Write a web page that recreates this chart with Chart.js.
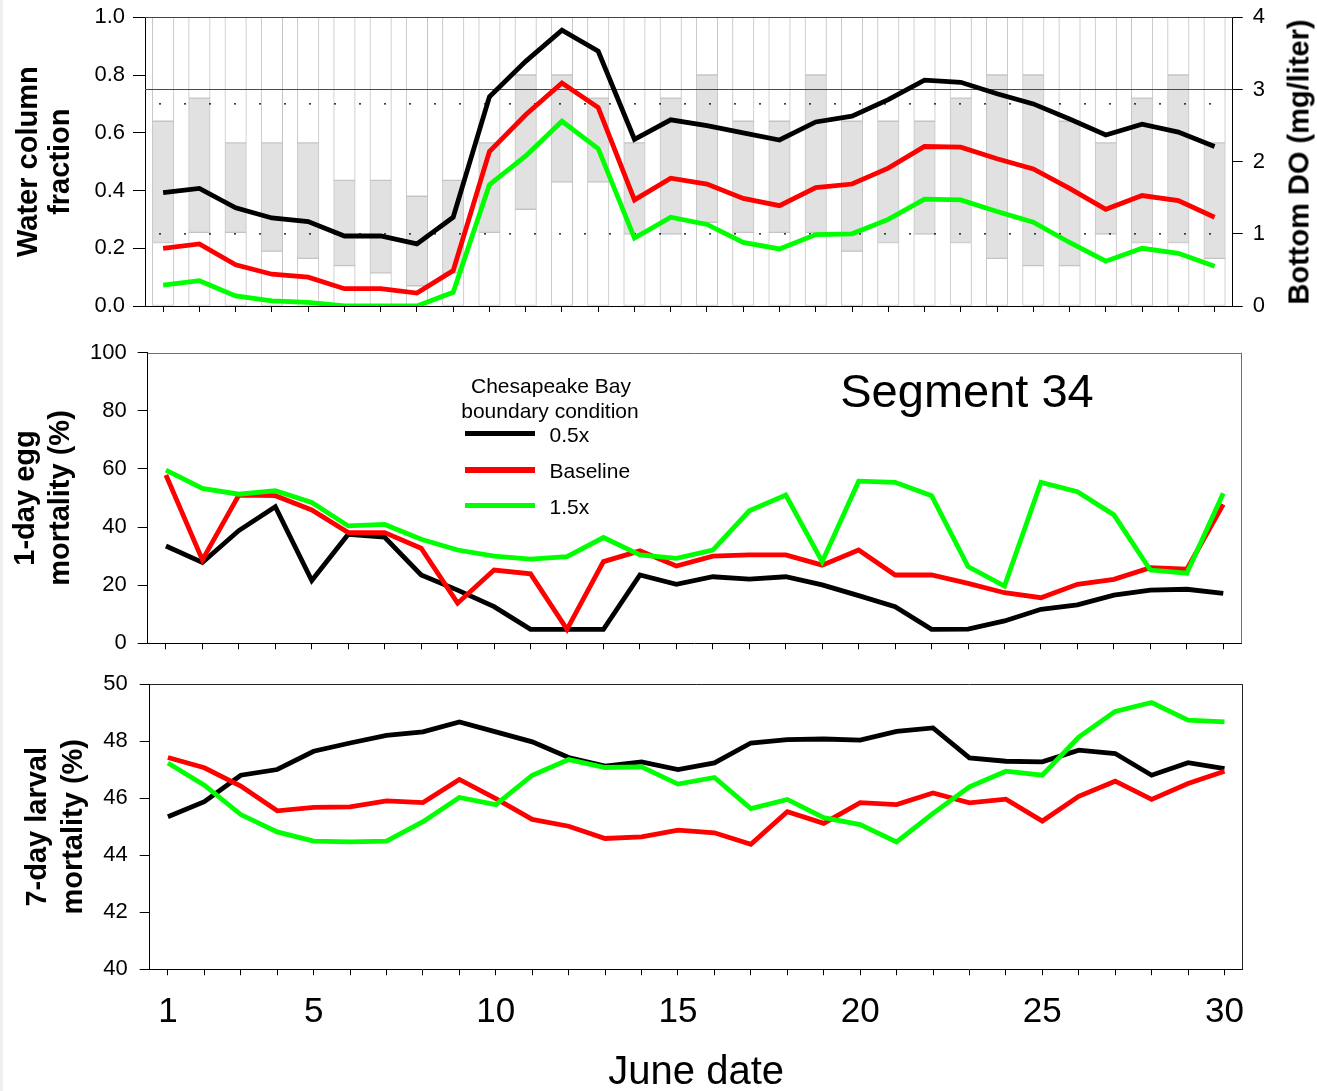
<!DOCTYPE html>
<html>
<head>
<meta charset="utf-8">
<title>Segment 34 - June dissolved oxygen and mortality</title>
<script src="https://cdn.jsdelivr.net/npm/chart.js@4.4.1/dist/chart.umd.min.js"></script>
<style>
  html, body { margin: 0; padding: 0; background: #ffffff; }
  body { width: 1317px; height: 1091px; position: relative; overflow: hidden;
         font-family: "Liberation Sans", Arial, Helvetica, sans-serif; color: #000; }
  .edge { position: absolute; left: 0; top: 0; width: 3px; height: 1091px; background: #efefef; }
  canvas { position: absolute; left: 0; }
  #c1 { top: 0; }
  #c2 { top: 330px; }
  #c3 { top: 670px; }
  .txt { position: absolute; white-space: nowrap; line-height: 1; }
  .swatch { position: absolute; }
</style>
</head>
<body>
<div class="edge"></div>
<canvas id="c1" width="1317" height="330" style="width:1317px;height:330px"></canvas>
<canvas id="c2" width="1317" height="340" style="width:1317px;height:340px"></canvas>
<canvas id="c3" width="1317" height="421" style="width:1317px;height:421px"></canvas>
<div id="notes"></div>
<script>
// ---- June dates ----
const days = [1, 2, 3, 4, 5, 6, 7, 8, 9, 10, 11, 12, 13, 14, 15, 16, 17, 18, 19, 20,
              21, 22, 23, 24, 25, 26, 27, 28, 29, 30];
const dateTickLabels = [1, 5, 10, 15, 20, 25, 30];

// ---- Water column fraction: lower and upper edge of the shaded layer ----
const layerBottom = [0.22, 0.255, 0.255, 0.19, 0.165, 0.14, 0.115, 0.07, 0.115, 0.255,
                     0.335, 0.43, 0.43, 0.25, 0.25, 0.29, 0.255, 0.255, 0.255, 0.19,
                     0.22, 0.25, 0.22, 0.165, 0.14, 0.14, 0.25, 0.22, 0.22, 0.165];
const layerTop    = [0.64, 0.72, 0.565, 0.565, 0.565, 0.435, 0.435, 0.38, 0.435, 0.565,
                     0.80, 0.80, 0.72, 0.565, 0.72, 0.80, 0.64, 0.64, 0.80, 0.64,
                     0.64, 0.64, 0.72, 0.80, 0.80, 0.64, 0.565, 0.72, 0.80, 0.565];

// ---- Bottom dissolved oxygen (mg/liter) ----
const bottomDO_half = [1.57, 1.63, 1.36, 1.22, 1.17, 0.97, 0.97, 0.86, 1.23, 2.90,
                       3.39, 3.82, 3.53, 2.31, 2.58, 2.50, 2.40, 2.30, 2.55, 2.63,
                       2.86, 3.13, 3.10, 2.94, 2.80, 2.59, 2.37, 2.52, 2.41, 2.21];
const bottomDO_base = [0.80, 0.86, 0.57, 0.44, 0.40, 0.24, 0.24, 0.18, 0.49, 2.14,
                       2.65, 3.09, 2.75, 1.47, 1.77, 1.69, 1.49, 1.39, 1.64, 1.69,
                       1.91, 2.21, 2.20, 2.04, 1.90, 1.63, 1.34, 1.53, 1.46, 1.23];
const bottomDO_x15  = [0.29, 0.35, 0.14, 0.07, 0.05, 0.00, 0.00, 0.00, 0.19, 1.68,
                       2.08, 2.56, 2.18, 0.94, 1.23, 1.13, 0.88, 0.79, 0.99, 1.00,
                       1.20, 1.48, 1.47, 1.31, 1.16, 0.88, 0.62, 0.80, 0.73, 0.55];

// ---- 1-day egg mortality (%) ----
const eggMort_half = [33.5, 27.8, 38.8, 47.0, 21.6, 37.5, 36.5, 23.5, 18.3, 12.6,
                      4.8, 4.8, 4.8, 23.5, 20.3, 22.9, 22.1, 22.9, 20.1, 16.4,
                      12.6, 4.8, 4.9, 7.7, 11.7, 13.2, 16.6, 18.3, 18.6, 17.2];
const eggMort_base = [57.9, 28.7, 51.0, 50.8, 45.9, 38.1, 38.1, 32.7, 13.8, 25.2,
                      23.9, 4.8, 28.1, 31.8, 26.6, 30.0, 30.4, 30.4, 26.9, 32.1,
                      23.5, 23.5, 20.6, 17.4, 15.7, 20.3, 22.0, 26.0, 25.5, 47.8];
const eggMort_x15  = [59.6, 53.3, 51.3, 52.5, 48.5, 40.4, 40.9, 35.8, 32.1, 30.0,
                      29.0, 29.8, 36.4, 30.4, 29.2, 32.1, 45.6, 51.0, 28.1, 55.8,
                      55.4, 50.8, 26.4, 19.7, 55.4, 52.2, 44.2, 25.2, 24.1, 51.6];

// ---- 7-day larval mortality (%) ----
const larvMort_half = [45.35, 45.88, 46.81, 47.01, 47.65, 47.94, 48.21, 48.33, 48.68, 48.33,
                       47.98, 47.43, 47.13, 47.28, 47.01, 47.24, 47.94, 48.06, 48.08, 48.04,
                       48.35, 48.47, 47.42, 47.30, 47.28, 47.69, 47.57, 46.81, 47.25, 47.04];
const larvMort_base = [47.43, 47.07, 46.43, 45.56, 45.68, 45.70, 45.91, 45.85, 46.66, 45.99,
                       45.26, 45.02, 44.59, 44.65, 44.88, 44.79, 44.39, 45.53, 45.12, 45.85,
                       45.78, 46.19, 45.84, 45.97, 45.20, 46.07, 46.60, 45.96, 46.52, 46.95];
const larvMort_x15  = [47.24, 46.46, 45.43, 44.82, 44.50, 44.47, 44.50, 45.18, 46.03, 45.78,
                       46.81, 47.36, 47.08, 47.10, 46.50, 46.73, 45.64, 45.96, 45.32, 45.08,
                       44.47, 45.47, 46.40, 46.95, 46.81, 48.15, 49.05, 49.36, 48.74, 48.68];

// ---- Series names, colours, reference levels and labels ----
const seriesNames  = ['0.5x', 'Baseline', '1.5x'];
const seriesColors = ['#000000', '#ff0000', '#00ff00'];
const legendTitle  = ['Chesapeake Bay', 'boundary condition'];
const segmentName  = 'Segment 34';
const doThreshold  = [3];            // mg/liter, solid line
const layerGuides  = [0.7, 0.25];    // water column fraction, dotted lines

const X_MIN = 0.5, X_MAX = 30.5;
const FONT = '"Liberation Sans", Arial, Helvetica, sans-serif';
Chart.defaults.font.family = FONT;
Chart.defaults.color = '#000';

const pts = arr => days.map((d, i) => ({ x: d, y: arr[i] }));
const levelLine = v => [{ x: X_MIN, y: v }, { x: X_MAX, y: v }];

function seriesDatasets(arrays, axisId) {
  return arrays.map((arr, k) => ({
    type: 'line',
    label: seriesNames[k],
    data: pts(arr),
    yAxisID: axisId,
    borderColor: seriesColors[k],
    backgroundColor: seriesColors[k],
    borderWidth: 4.8,
    pointRadius: 0,
    tension: 0,
    fill: false,
    order: 3 - k          // green on top, black underneath
  }));
}

// Top and right edges of the plotting frame
const framePlugin = {
  id: 'frame',
  afterDatasetsDraw(chart, args, opts) {
    const { ctx, chartArea: a } = chart;
    ctx.save();
    ctx.strokeStyle = opts.color || '#000';
    ctx.lineWidth = 1;
    ctx.beginPath();
    if (opts.top) {
      const y = Math.round(a.top) + 0.5;
      ctx.moveTo(a.left, y); ctx.lineTo(a.right, y);
    }
    if (opts.right) {
      const x = Math.round(a.right) - 0.5;
      ctx.moveTo(x, a.top); ctx.lineTo(x, a.bottom);
    }
    ctx.stroke();
    ctx.restore();
  }
};

function dayAxis(height, opts = {}) {
  return Object.assign({
    type: 'linear', min: X_MIN, max: X_MAX, offset: false,
    afterBuildTicks: s => { s.ticks = days.map(d => ({ value: d })); },
    afterFit: s => { s.height = height; s.paddingLeft = 0; s.paddingRight = 0; },
    ticks: { display: false, autoSkip: false, maxRotation: 0, minRotation: 0 },
    grid: { offset: false, drawOnChartArea: false, drawTicks: true, tickLength: 6, color: '#000' },
    border: { display: true, color: '#000', width: 1 }
  }, opts);
}

function valueAxis(o) {
  return {
    position: o.position || 'left',
    min: o.min, max: o.max,
    // fixed axis width; the layout padding alone sets the plot's top edge
    afterFit: s => { s.width = o.width; s.paddingTop = 0; s.paddingBottom = 0; },
    ticks: { stepSize: o.step, padding: o.pad, font: { size: 22 }, callback: o.fmt || (v => String(v)) },
    grid: { drawOnChartArea: false, drawTicks: true, tickLength: o.tick, color: '#000' },
    border: { display: true, color: '#000', width: 1 },
    title: o.title ? {
      display: true, text: o.title, color: '#000',
      font: { size: 29, weight: 'bold', lineHeight: o.lh },
      padding: { top: o.tpad, bottom: 0 }
    } : { display: false }
  };
}

const common = {
  responsive: false,
  animation: false,
  devicePixelRatio: 1,
  events: [],
  plugins: { legend: { display: false }, tooltip: { enabled: false } }
};

// ---------- Panel 1: water column layer and bottom DO ----------
const barStyle = {
  borderColor: '#c4c4c4', borderWidth: 1, borderSkipped: false,
  barThickness: 21.5, grouped: false, yAxisID: 'y'
};
new Chart(document.getElementById('c1'), {
  type: 'bar',
  data: {
    datasets: [
      Object.assign({ label: 'below layer', data: days.map((d, i) => ({ x: d, y: [0, layerBottom[i]] })),
                      backgroundColor: '#ffffff', order: 12 }, barStyle),
      Object.assign({ label: 'layer', data: days.map((d, i) => ({ x: d, y: [layerBottom[i], layerTop[i]] })),
                      backgroundColor: '#e1e1e1', order: 11 }, barStyle),
      Object.assign({ label: 'above layer', data: days.map((d, i) => ({ x: d, y: [layerTop[i], 1] })),
                      backgroundColor: '#ffffff', order: 10 }, barStyle),
      ...doThreshold.map(v => ({
        type: 'line', label: v + ' mg/liter', data: levelLine(v), yAxisID: 'y2',
        borderColor: '#4a4a4a', borderWidth: 1.2, pointRadius: 0, order: 6
      })),
      ...layerGuides.map(v => ({
        type: 'line', label: 'fraction ' + v, data: levelLine(v), yAxisID: 'y',
        borderColor: '#000', borderWidth: 1.3, borderDash: [2, 23], borderDashOffset: -14,
        pointRadius: 0, order: 5
      })),
      ...seriesDatasets([bottomDO_half, bottomDO_base, bottomDO_x15], 'y2')
    ]
  },
  options: Object.assign({}, common, {
    layout: { padding: { top: 17.3, left: 0, right: 0, bottom: 0 } },
    scales: {
      x: dayAxis(24),
      y: valueAxis({ min: 0, max: 1, step: 0.2, width: 145, pad: 8, tick: 12,
                     fmt: v => v.toFixed(1), title: ['Water column', 'fraction'], lh: 1.093, tpad: 13.5 }),
      y2: valueAxis({ position: 'right', min: 0, max: 4, step: 1, width: 84.3, pad: 10, tick: 10 })
    },
    plugins: Object.assign({}, common.plugins, { frame: { top: true, color: '#444' } })
  }),
  plugins: [framePlugin]
});

// ---------- Panel 2: 1-day egg mortality ----------
new Chart(document.getElementById('c2'), {
  type: 'line',
  data: { datasets: seriesDatasets([eggMort_half, eggMort_base, eggMort_x15], 'y') },
  options: Object.assign({}, common, {
    layout: { padding: { top: 22.7, left: 0, right: 75.5, bottom: 0 } },
    scales: {
      x: dayAxis(26.7),
      y: valueAxis({ min: 0, max: 100, step: 20, width: 147.7, pad: 11, tick: 10,
                     title: ['1-day egg', 'mortality (%)'], lh: 1.207, tpad: 8.5 })
    },
    plugins: Object.assign({}, common.plugins, { frame: { top: true, right: true, color: '#6e6e6e' } })
  }),
  plugins: [framePlugin]
});

// ---------- Panel 3: 7-day larval mortality ----------
new Chart(document.getElementById('c3'), {
  type: 'line',
  data: { datasets: seriesDatasets([larvMort_half, larvMort_base, larvMort_x15], 'y') },
  options: Object.assign({}, common, {
    layout: { padding: { top: 14.3, left: 0, right: 74.3, bottom: 0 } },
    scales: {
      x: dayAxis(121.7, {
        ticks: { display: true, autoSkip: false, maxRotation: 0, minRotation: 0, padding: 16,
                 font: { size: 35 },
                 callback: v => (dateTickLabels.includes(v) ? String(v) : '') },
        title: { display: true, text: 'June date', color: '#000',
                 font: { size: 40, lineHeight: 0.9 }, padding: { top: 0, bottom: 0 } }
      }),
      y: valueAxis({ min: 40, max: 50, step: 2, width: 149.7, pad: 12, tick: 10,
                     title: ['7-day larval', 'mortality (%)'], lh: 1.262, tpad: 19.4 })
    },
    plugins: Object.assign({}, common.plugins, { frame: { top: true, right: true, color: '#222' } })
  }),
  plugins: [framePlugin]
});

// ---------- Text placed over the panels ----------
const notes = document.getElementById('notes');
function addText(text, x, y, css, anchor) {
  const el = document.createElement('div');
  el.className = 'txt';
  el.textContent = text;
  el.style.left = x + 'px';
  el.style.top = y + 'px';
  Object.assign(el.style, css);
  el.style.transform = anchor;
  notes.appendChild(el);
  return el;
}

// right-hand axis title, reading upward
addText('Bottom DO (mg/liter)', 1299, 162,
        { fontSize: '29px', fontWeight: 'bold' }, 'translate(-50%,-50%) rotate(-90deg)');

// segment name
addText(segmentName, 967, 389.5, { fontSize: '47px' }, 'translate(-50%,-50%)');

// legend for the boundary-condition scenarios
addText(legendTitle[0], 551, 384.5, { fontSize: '21px' }, 'translate(-50%,-50%)');
addText(legendTitle[1], 550, 409.5, { fontSize: '21px' }, 'translate(-50%,-50%)');
const legendRows = [433.5, 470, 505.5];
seriesNames.forEach((name, k) => {
  const sw = document.createElement('div');
  sw.className = 'swatch';
  Object.assign(sw.style, { left: '464.5px', top: (legendRows[k] - 2.6) + 'px', width: '70.5px',
                            height: '5.2px', background: seriesColors[k] });
  notes.appendChild(sw);
  addText(name, 549.5, legendRows[k], { fontSize: '21px' }, 'translate(0,-50%)');
});
</script>
</body>
</html>
